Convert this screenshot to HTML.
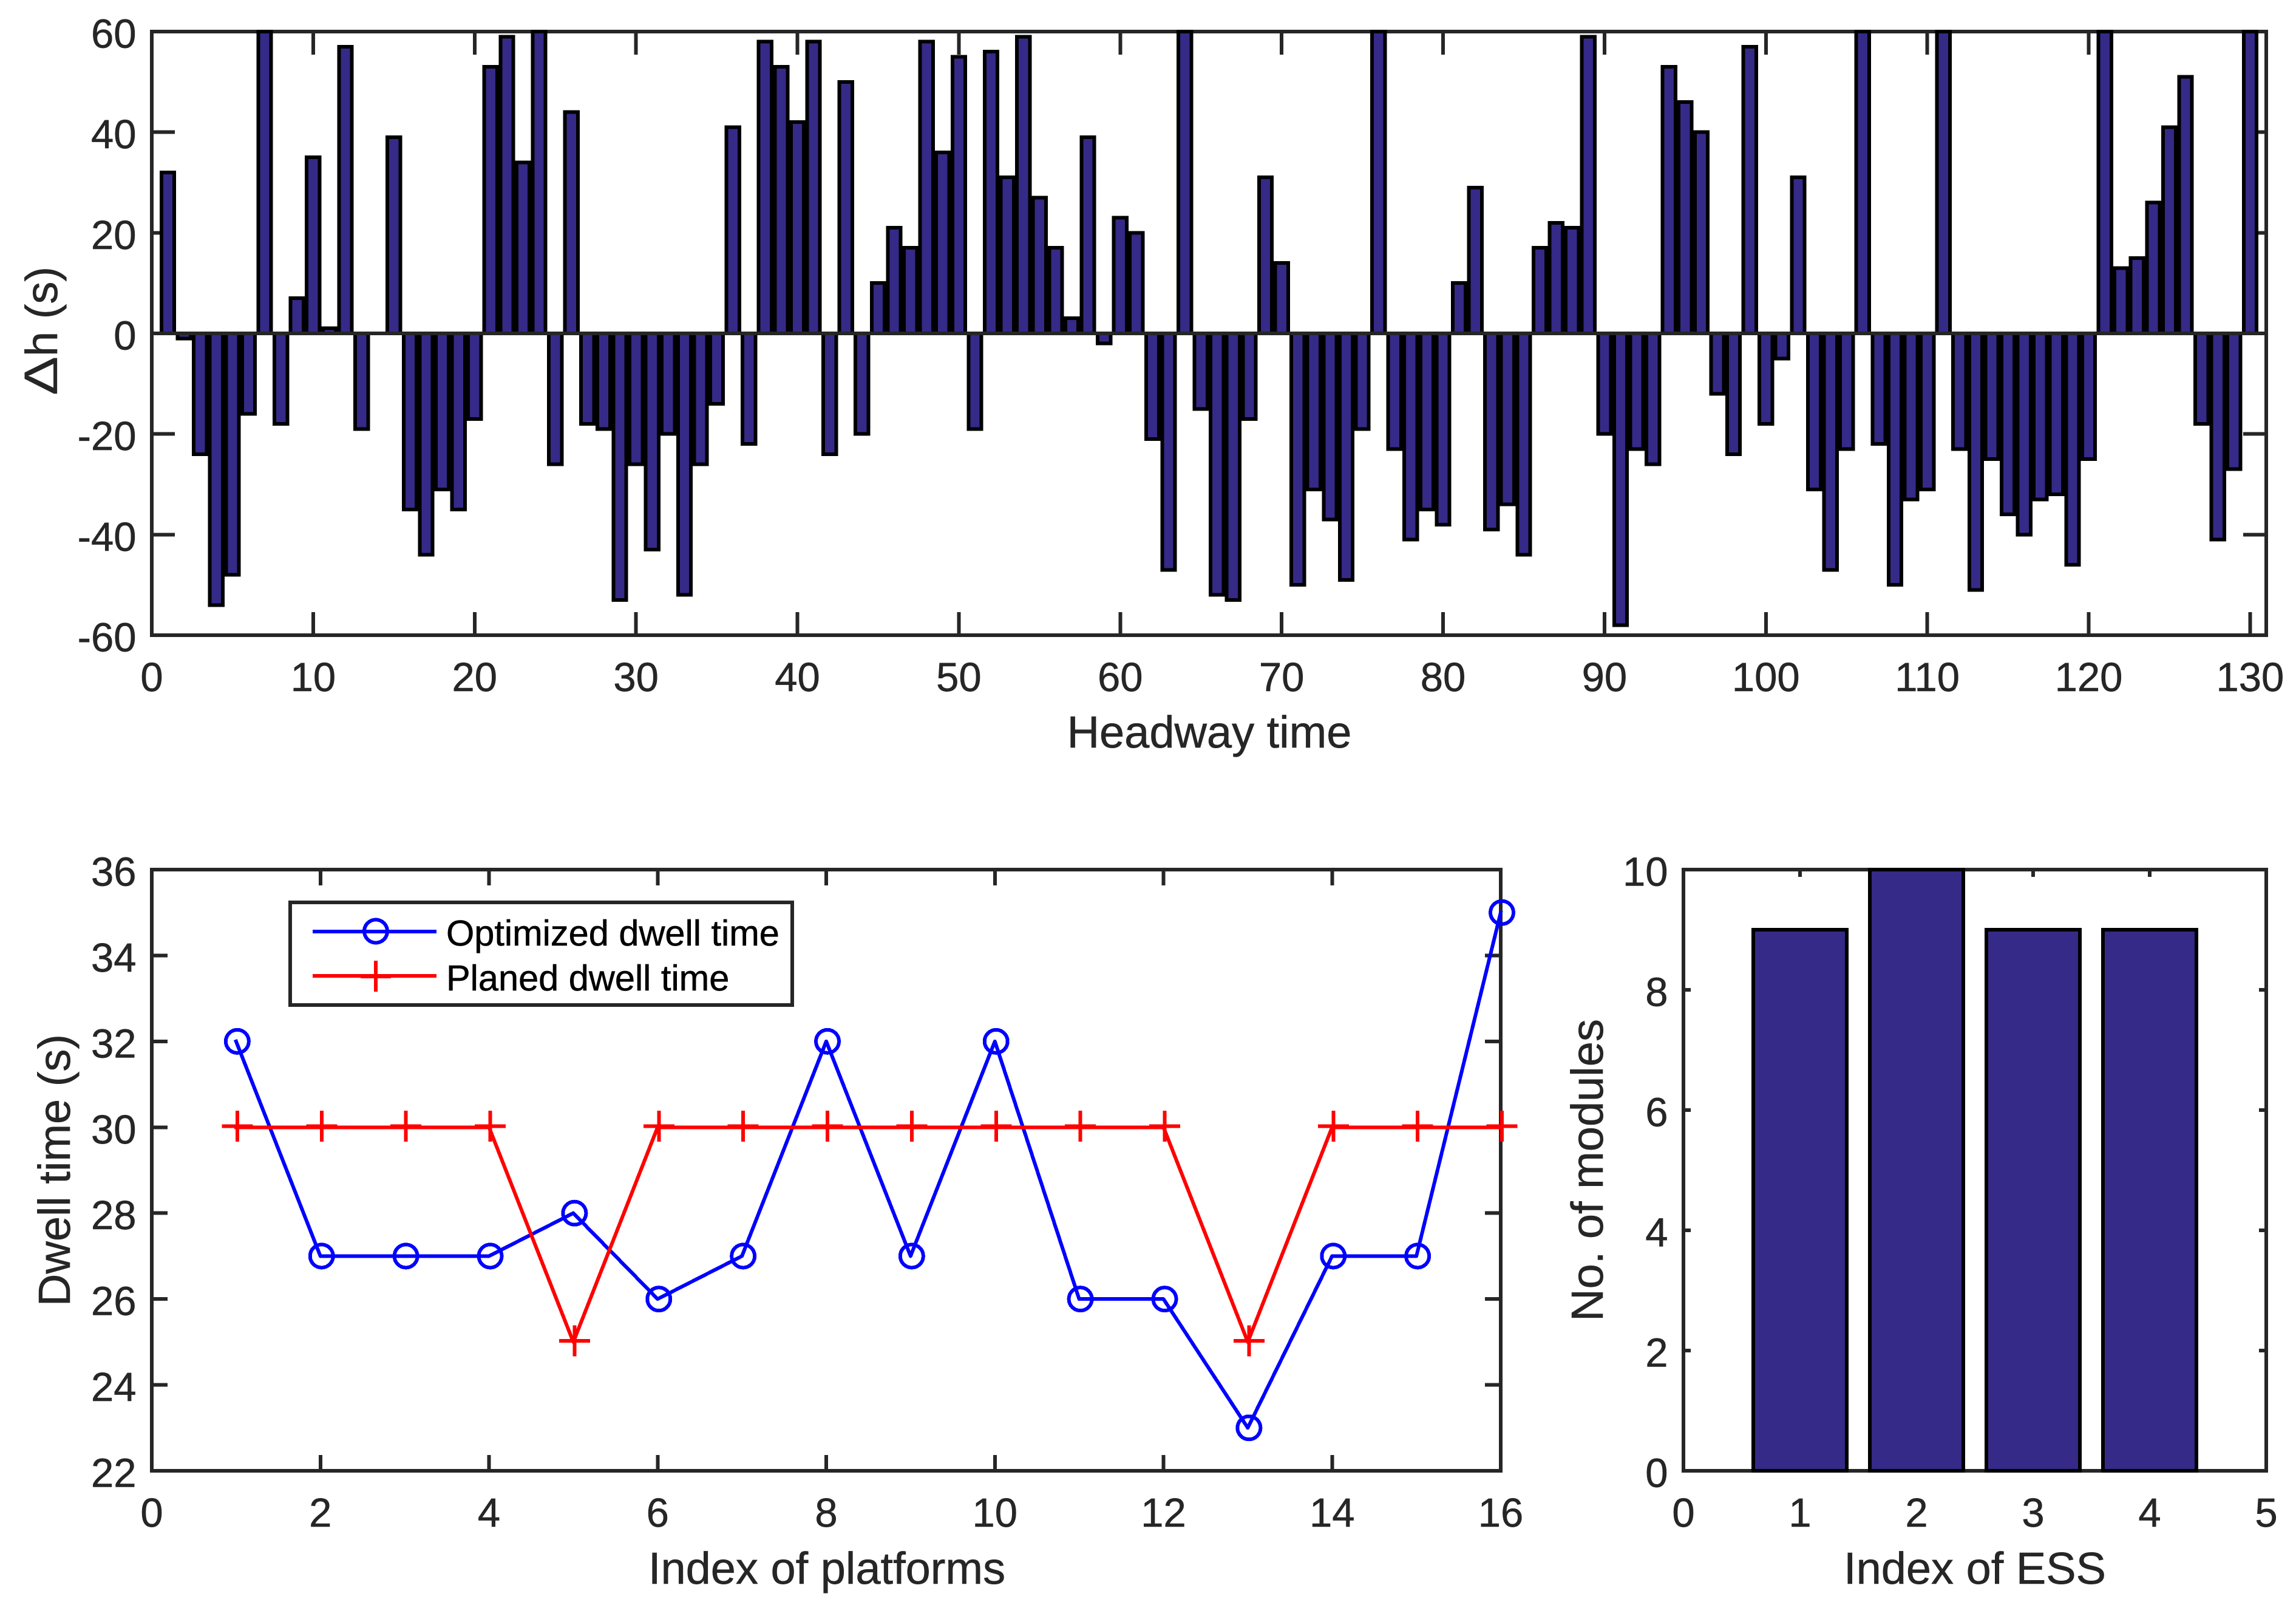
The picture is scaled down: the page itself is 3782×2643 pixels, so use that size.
<!DOCTYPE html>
<html lang="en">
<head>
<meta charset="utf-8">
<title>Headway, dwell time and ESS modules</title>
<style>
html,body{margin:0;padding:0;background:#fff;}
svg{display:block;shape-rendering:crispEdges;}
text{font-family:"Liberation Sans",Arial,sans-serif;fill:#262626;stroke:#262626;stroke-width:.6;text-rendering:geometricPrecision;}
</style>
</head>
<body>
<svg id="fig" xmlns="http://www.w3.org/2000/svg" width="3782" height="2643" viewBox="0 0 3782 2643">
<rect x="0" y="0" width="3782" height="2643" fill="#ffffff"/>
<g id="top"></g>
<g id="dwell"></g>
<g id="ess"></g>
<text x="1992" y="1231" font-size="74" text-anchor="middle">Headway time</text>
<text x="0" y="0" font-size="74" transform="translate(94 651) rotate(-90) scale(1.3 1.05)" style="stroke-width:.2">Δ</text>
<text x="0" y="0" font-size="74" transform="translate(94 587) rotate(-90)">h (s)</text>
<text x="1362" y="2608" font-size="74" text-anchor="middle">Index of platforms</text>
<text x="0" y="0" font-size="74" text-anchor="middle" transform="translate(115 1927) rotate(-90)">Dwell time (s)</text>
<text x="3253" y="2608" font-size="74" text-anchor="middle">Index of ESS</text>
<text x="0" y="0" font-size="74" text-anchor="middle" transform="translate(2640 1927) rotate(-90)">No. of modules</text>
<g id="legend">
<rect x="478" y="1486" width="827" height="169" fill="#ffffff" stroke="#262626" stroke-width="6"/>
<line x1="515" y1="1534" x2="719" y2="1534" stroke="#0000ff" stroke-width="6"/>
<circle cx="619" cy="1533.5" r="19" fill="none" stroke="#0000ff" stroke-width="6"/>
<text x="735" y="1557" font-size="59.5" style="fill:#000;stroke:#000">Optimized dwell time</text>
<line x1="515" y1="1607" x2="719" y2="1607" stroke="#ff0000" stroke-width="6"/>
<path d="M619 1582V1633M594 1608H644" fill="none" stroke="#ff0000" stroke-width="6"/>
<text x="735" y="1631" font-size="59.5" style="fill:#000;stroke:#000">Planed dwell time</text>
</g>
</svg>
<script>
var headwayTickX = [0,10,20,30,40,50,60,70,80,90,100,110,120,130];
var headwayTickY = [-60,-40,-20,0,20,40,60];
var headwayValues = [32,-1,-24,-54,-48,-16,60,-18,7,35,1,57,-19,0,39,-35,-44,-31,-35,-17,53,59,34,60,-26,44,-18,-19,-53,-26,-43,-20,-52,-26,-14,41,-22,58,53,42,58,-24,50,-20,10,21,17,58,36,55,-19,56,31,59,27,17,3,39,-2,23,20,-21,-47,60,-15,-52,-53,-17,31,14,-50,-31,-37,-49,-19,60,-23,-41,-35,-38,10,29,-39,-34,-44,17,22,21,59,-20,-58,-23,-26,53,46,40,-12,-24,57,-18,-5,31,-31,-47,-23,60,-22,-50,-33,-31,60,-23,-51,-25,-36,-40,-33,-32,-46,-25,60,13,15,26,41,51,-18,-41,-27,60];
var dwellTickX = [0,2,4,6,8,10,12,14,16];
var dwellTickY = [22,24,26,28,30,32,34,36];
var optimizedDwell = [32,27,27,27,28,26,27,32,27,32,26,26,23,27,27,35];
var planedDwell = [30,30,30,30,25,30,30,30,30,30,30,30,25,30,30,30];
var essTickX = [0,1,2,3,4,5];
var essTickY = [0,2,4,6,8,10];
var essModules = [9,10,9,9];

var NS = 'http://www.w3.org/2000/svg';
var INK = '#262626';
var BAR = '#352a87';
var SW = 6;

function mk(parent, tag, attrs, name) {
  var el = document.createElementNS(NS, tag);
  for (var k in attrs) el.setAttribute(k, attrs[k]);
  
  
  parent.appendChild(el);
  return el;
}
function scale(d0, d1, r0, r1) {
  return function (v) { return r0 + (v - d0) * (r1 - r0) / (d1 - d0); };
}
function drawAxes(g, box, sx, sy, tx, ty, tick, prefix) {
  mk(g, 'rect', {x: box.l, y: box.t, width: box.r - box.l, height: box.b - box.t, fill: '#fff', stroke: INK, 'stroke-width': SW}, prefix + '-plot-frame');
  tx.forEach(function (v) {
    var x = sx(v);
    if (v !== tx[0] && x < box.r - 1) {
      mk(g, 'line', {x1: x, x2: x, y1: box.b, y2: box.b - tick, stroke: INK, 'stroke-width': SW}, prefix + '-x-tick-bottom');
      mk(g, 'line', {x1: x, x2: x, y1: box.t, y2: box.t + tick, stroke: INK, 'stroke-width': SW}, prefix + '-x-tick-top');
    }
    var t = mk(g, 'text', {x: x, y: box.b + 92, 'font-size': 67, 'text-anchor': 'middle'}, prefix + '-x-tick-label');
    t.textContent = String(v);
  });
  ty.forEach(function (v, i) {
    var y = sy(v);
    if (i !== 0 && i !== ty.length - 1) {
      mk(g, 'line', {x1: box.l, x2: box.l + tick, y1: y, y2: y, stroke: INK, 'stroke-width': SW}, prefix + '-y-tick-left');
      mk(g, 'line', {x1: box.r, x2: box.r - tick, y1: y, y2: y, stroke: INK, 'stroke-width': SW}, prefix + '-y-tick-right');
    }
    var t = mk(g, 'text', {x: box.l - 25.5, y: y + 26.5, 'font-size': 67, 'text-anchor': 'end'}, prefix + '-y-tick-label');
    t.textContent = String(v);
  });
}
function drawBars(g, values, sx, sy, halfWidth, prefix) {
  values.forEach(function (v, i) {
    if (v === 0) return;
    var x0 = sx(i + 1 - halfWidth), x1 = sx(i + 1 + halfWidth);
    var y0 = sy(Math.max(v, 0)), y1 = sy(Math.min(v, 0));
    mk(g, 'rect', {x: x0, y: y0, width: x1 - x0, height: y1 - y0, fill: BAR, stroke: '#000', 'stroke-width': SW}, prefix + '-bar-' + (i + 1));
  });
}

/* Top chart */
(function () {
  var g = document.getElementById('top');
  var box = {l: 250, r: 3733, t: 52, b: 1046};
  var sx = scale(0, 131, box.l, box.r), sy = scale(-60, 60, box.b, box.t);
  drawAxes(g, box, sx, sy, headwayTickX, headwayTickY, 38, 'headway');
  drawBars(g, headwayValues, sx, sy, 0.4, 'headway');
  mk(g, 'line', {x1: box.l, x2: box.r, y1: sy(0), y2: sy(0), stroke: INK, 'stroke-width': SW}, 'headway-baseline');
})();

/* Dwell chart */
(function () {
  var g = document.getElementById('dwell');
  var box = {l: 250, r: 2472, t: 1432, b: 2422};
  var sx = scale(0, 16, box.l, box.r), sy = scale(22, 36, box.b, box.t);
  drawAxes(g, box, sx, sy, dwellTickX, dwellTickY, 26, 'dwell');
  function pts(arr) {
    return arr.map(function (v, i) { return sx(i + 1) + ',' + sy(v); }).join(' ');
  }
  mk(g, 'polyline', {points: pts(optimizedDwell), fill: 'none', stroke: '#0000ff', 'stroke-width': 6, 'stroke-linecap': 'square', 'stroke-linejoin': 'round'}, 'optimized-dwell-line');
  optimizedDwell.forEach(function (v, i) {
    mk(g, 'circle', {cx: sx(i + 1) + 2, cy: sy(v), r: 19, fill: 'none', stroke: '#0000ff', 'stroke-width': 6}, 'optimized-dwell-point-' + (i + 1));
  });
  mk(g, 'polyline', {points: pts(planedDwell), fill: 'none', stroke: '#ff0000', 'stroke-width': 6, 'stroke-linecap': 'square', 'stroke-linejoin': 'round'}, 'planed-dwell-line');
  planedDwell.forEach(function (v, i) {
    var x = sx(i + 1) + 2, y = sy(v) - 2;
    mk(g, 'path', {d: 'M' + x + ' ' + (y - 25.5) + 'V' + (y + 25.5) + 'M' + (x - 25.5) + ' ' + y + 'H' + (x + 25.5), fill: 'none', stroke: '#ff0000', 'stroke-width': 6}, 'planed-dwell-point-' + (i + 1));
  });
})();

/* ESS chart */
(function () {
  var g = document.getElementById('ess');
  var box = {l: 2773, r: 3733, t: 1432, b: 2422};
  var sx = scale(0, 5, box.l, box.r), sy = scale(0, 10, box.b, box.t);
  drawAxes(g, box, sx, sy, essTickX, essTickY, 12, 'ess');
  drawBars(g, essModules, sx, sy, 0.4, 'ess');
})();
</script>
</body>
</html>
